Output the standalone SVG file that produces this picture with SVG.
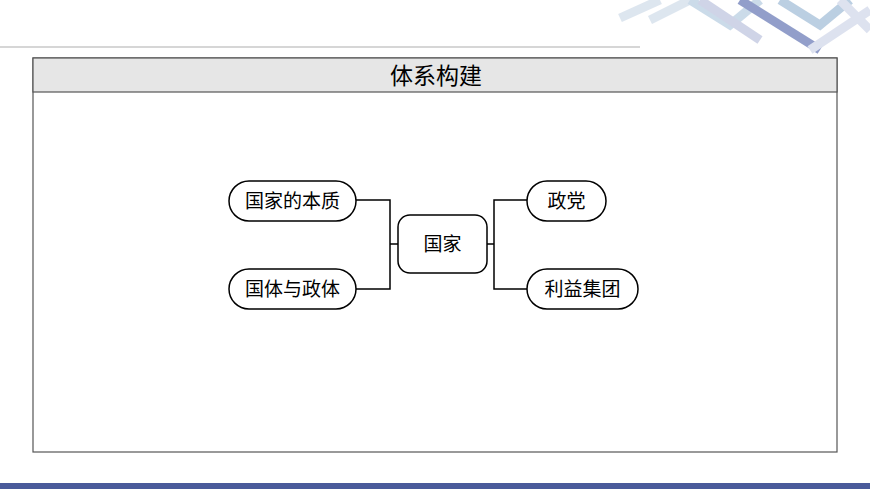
<svg xmlns="http://www.w3.org/2000/svg" width="870" height="489" viewBox="0 0 870 489">
<style>
.n{fill:#fff;stroke:#000;stroke-width:1.5}
.t{font-family:"Liberation Serif","Noto Sans CJK SC",serif;font-size:19px;text-anchor:middle;dominant-baseline:central}
.c{fill:none;stroke:#000;stroke-width:1.5}
.d{fill:none;stroke-width:9}
</style>
<rect width="870" height="489" fill="#fff"/>
<g opacity="0.6">
<path class="d" stroke="#c8d6e6" d="M620 18 L660 0 M650 20 L690 0"/>
<path class="d" stroke="#a9c4dc" d="M690 0 L730 25 L760 0"/>
<path class="d" stroke="#b0b8d8" d="M700 0 L760 40"/>
<path class="d" stroke="#4a5fa8" d="M740 0 L820 50"/>
<path class="d" stroke="#8fb0d0" d="M780 0 L820 25 L850 0"/>
<path class="d" stroke="#c8d0e6" d="M810 50 L870 10 M840 0 L870 30"/>
</g>
<line x1="0" y1="47" x2="640" y2="47" stroke="#c8c8c8" stroke-width="1.5"/>
<rect x="0" y="483" width="870" height="6" fill="#4a5a9a"/>
<rect x="33" y="58" width="804" height="394" fill="#fff" stroke="#555" stroke-width="1.2"/>
<rect x="33" y="58" width="804" height="34" fill="#e6e6e6" stroke="#555" stroke-width="1.2"/>
<text x="436" y="76" class="t" style="font-size:23px">体系构建</text>
<g id="connectors">
<path class="c" d="M356 200 H390 V289 H356 M390 244 H398"/>
<path class="c" d="M527 200 H494 V289 H527 M487 244 H494"/>
</g>
<g id="n1"><rect class="n" x="229" y="181" width="127" height="40" rx="20"/><text class="t" x="292.5" y="201">国家的本质</text></g>
<g id="n2"><rect class="n" x="229" y="269" width="127" height="40" rx="20"/><text class="t" x="292.5" y="289">国体与政体</text></g>
<g id="n0"><rect class="n" x="398" y="215" width="89" height="58" rx="12"/><text class="t" x="442.5" y="244">国家</text></g>
<g id="n3"><rect class="n" x="527" y="181" width="79" height="40" rx="20"/><text class="t" x="566.5" y="201">政党</text></g>
<g id="n4"><rect class="n" x="527" y="269" width="111" height="40" rx="20"/><text class="t" x="582.5" y="289">利益集团</text></g>
</svg>
